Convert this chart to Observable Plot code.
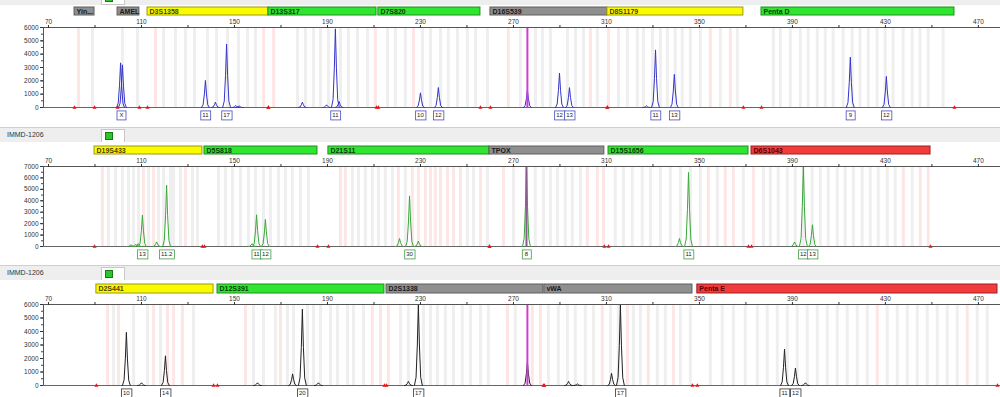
<!DOCTYPE html>
<html><head><meta charset="utf-8">
<script src="https://cdn.jsdelivr.net/npm/d3@7"></script>
<script src="https://cdn.jsdelivr.net/npm/@observablehq/plot@0.6"></script>
<style>
html,body{margin:0;padding:0;background:#fff}
body{width:1000px;height:397px;overflow:hidden;font-family:"Liberation Sans",Arial,sans-serif}
.band{position:relative;background:#eeeeee;border-top:1px solid #cfcfcf;box-sizing:border-box;overflow:hidden}
.band .name{position:absolute;left:7px;top:3px;font-size:7px;color:#333}
.band .sw{position:absolute;left:101px;top:1px;width:24px;height:14px;background:#fff;border:1px solid #c8c8c8;box-sizing:border-box}
.band .sw i{position:absolute;left:3px;top:2px;width:8px;height:8px;background:#2ec42e;border:1px solid #147a14;box-sizing:border-box}
svg{display:block}
</style></head><body><div id="root"></div><script>
// ---------- shared axis ----------
const xDomain = [67.85, 479.5];
const axisTicks = [70,90,110,130,150,170,190,210,230,250,270,290,310,330,350,370,390,410,430,450,470];
const axisLabels = [70,110,150,190,230,270,310,350,390,430,470];

// ---------- panel 1 (blue) ----------
const p1Markers = ["Yin...","AMEL","D3S1358","D13S317","D7S820","D16S539","D8S1179","Penta D"];
const p1Start   = [81.2, 99.7, 112.6, 164.6, 211.9, 260.1, 310.4, 376.7];
const p1End     = [89.8, 109.1, 164.6, 211.1, 255.8, 310.4, 368.9, 459.7];
const p1Dye     = ["grey","grey","yellow","green","green","grey","yellow","green"];
const p1PeakPos = [101.0, 101.8, 137.5, 141.8, 146.6, 150.5, 152.0, 179.2, 189.6, 193.4, 195.0, 230.0, 237.7, 276.0, 289.8, 294.1, 327.2, 331.1, 339.2, 414.9, 430.4];
const p1PeakH   = [3350, 3200, 2030, 400, 4760, 150, 120, 400, 200, 5900, 450, 1100, 1500, 1300, 2580, 1490, 120, 4320, 2480, 3770, 2330];
const p1AllelePos = [101.4, 137.5, 146.6, 193.4, 230.0, 237.7, 289.8, 294.1, 331.1, 339.2, 414.9, 430.4];
const p1Allele    = ["X","11","17","11","10","12","12","13","11","13","9","12"];
const p1YTicks = [0,1000,2000,3000,4000,5000,6000];
const p1BinGrey = [88.9,101.8,108.3,119.5,124.6,128.9,132.8,138.4,142.3,147.0,151.7,155.6,159.0,177.1,180.5,184.0,187.0,190.4,195.6,199.0,202.9,207.2,215.8,219.2,223.5,230.9,234.3,238.6,242.0,245.9,250.2,253.7,258.8,273.0,279.5,282.5,285.9,293.2,296.7,300.1,306.1,315.2,319.0,323.3,325.9,329.8,333.2,336.2,339.6,342.6,346.1,350.4,359.0,366.3,381.8,384.8,389.1,393.4,396.8,400.7,404.1,407.5,411.8,415.7,419.1,422.6,426.4,429.9,433.3,437.6,441.5,444.9,448.4,454.8];
const p1BinPink = [82.9,116.0,162.5,166.8,210.6,227.0,267.8,303.1,310.9,354.7,363.3];
const p1Magenta = [276.0];

// ---------- panel 2 (green) ----------
const p2Markers = ["D19S433","D5S818","D21S11","TPOX","D15S1656","D6S1043"];
const p2Start   = [89.8, 137.1, 190.4, 259.7, 310.9, 372.4];
const p2End     = [136.2, 185.7, 259.7, 309.1, 371.1, 449.4];
const p2Dye     = ["yellow","green","green","grey","green","red"];
const p2PeakPos = [105.5, 107.5, 108.6, 110.4, 116.5, 120.8, 157.6, 159.5, 163.3, 221.0, 225.3, 229.1, 275.6, 341.4, 345.3, 390.9, 394.7, 398.6];
const p2PeakH   = [150, 200, 250, 2750, 400, 5370, 250, 2770, 2370, 700, 4430, 470, 7000, 700, 6480, 400, 7000, 1900];
const p2AllelePos = [110.4, 120.8, 159.5, 163.3, 225.3, 275.6, 345.3, 394.7, 398.6];
const p2Allele    = ["13","11.2","11","12","30","8","11","12","13"];
const p2YTicks = [0,1000,2000,3000,4000,5000,6000,7000];
const p2BinGrey = [95.8,98.8,101.8,104.4,106.6,108.7,113.0,117.3,119.5,122.5,123.8,126.8,131.9,134.1,143.1,146.1,149.1,152.6,156.0,159.0,162.5,165.5,168.9,171.9,174.9,178.4,181.8,200.7,203.3,206.3,209.3,211.9,214.9,217.9,223.5,250.2,252.8,258.8,270.0,279.4,282.9,285.9,288.9,292.3,295.3,298.8,313.8,317.3,321.1,325.4,328.9,333.2,337.5,341.8,346.1,350.4,357.7,368.9,377.5,380.5,383.9,387.8,391.2,394.7,398.5,402.0,405.4,409.3,412.7,416.2,420.0,423.5,426.9,430.8,434.2,441.5];
const p2BinPink = [93.2,110.9,115.2,128.9,195.6,197.7,220.5,226.5,229.1,232.1,234.3,236.4,238.6,241.6,244.2,247.2,255.8,265.7,301.8,306.1,308.7,353.8,361.1,364.6,373.2,437.7,445.0,448.4];
const p2Magenta = [275.6];

// ---------- panel 3 (black) ----------
const p3Markers = ["D2S441","D12S391","D2S1338","vWA","Penta E"];
const p3Start   = [90.6, 142.7, 215.4, 283.3, 349.1];
const p3End     = [141.0, 214.5, 282.9, 347.0, 478.2];
const p3Dye     = ["yellow","green","grey","grey","red"];
const p3PeakPos = [103.5, 110.0, 120.3, 159.9, 175.0, 179.2, 186.1, 224.8, 229.1, 276.0, 293.7, 297.5, 312.2, 316.0, 386.6, 391.3, 395.6];
const p3PeakH   = [3940, 200, 2200, 200, 860, 5650, 200, 300, 6000, 1740, 300, 120, 900, 5960, 2700, 1290, 200];
const p3AllelePos = [103.5, 120.3, 179.2, 229.1, 316.0, 386.6, 391.3];
const p3Allele    = ["10","14","20","17","17","11","12"];
const p3YTicks = [0,1000,2000,3000,4000,5000,6000];
const p3BinGrey = [98.0,106.6,112.6,118.2,132.4,158.2,162.5,167.6,172.8,175.4,181.4,184.0,187.0,191.3,194.3,198.6,201.2,205.5,221.4,224.8,231.3,234.3,237.3,240.7,244.2,248.0,251.5,255.8,259.2,270.8,285.0,289.3,293.2,296.6,300.9,304.4,311.7,315.1,321.6,324.6,331.9,335.3,341.8,346.1,354.7,359.8,364.6,369.7,374.9,379.2,383.5,387.8,392.1,396.4,400.7,405.0,409.3,413.6,417.9,422.2,430.8,435.1,439.4,443.7,448.0,452.3,456.6,460.9,469.5,473.8];
const p3BinPink = [95.4,100.1,115.2,121.2,123.8,127.6,154.7,169.8,209.3,212.8,216.2,267.4,278.1,281.6,308.2,319.0,328.0,338.8,426.5,465.2];
const p3Magenta = [276.0];

// ---------- styles ----------
const dyeFill   = {yellow:"#fbfb00", green:"#30e530", grey:"#8f8f8f", red:"#f23c3c"};
const dyeStroke = {yellow:"#9a9a10", green:"#1f8f1f", grey:"#5e5e5e", red:"#a01c1c"};
const dyeText   = {yellow:"#4a4200", green:"#0c3a0c", grey:"#1a1a1a", red:"#5a0000"};
const baseStyle = {fontFamily:"Liberation Sans, Arial, sans-serif", fontSize:"6.5px", color:"#333", background:"transparent", overflow:"visible"};

const panels = [
  {markers:p1Markers,start:p1Start,end:p1End,dye:p1Dye,pos:p1PeakPos,h:p1PeakH,apos:p1AllelePos,alle:p1Allele,yTicks:p1YTicks,binG:p1BinGrey,binP:p1BinPink,mag:p1Magenta,
   color:"#3434c8", box:"#4a4ac0", magColor:"#d23cd2", bandH:5, bandTop:-10, stripH:12, stripMT:2, stripMB:2, mainH:110, mainMB:20, label:null},
  {markers:p2Markers,start:p2Start,end:p2End,dye:p2Dye,pos:p2PeakPos,h:p2PeakH,apos:p2AllelePos,alle:p2Allele,yTicks:p2YTicks,binG:p2BinGrey,binP:p2BinPink,mag:p2Magenta,
   color:"#3aa83a", box:"#4a9a4a", magColor:"#8a5a90", bandH:15, bandTop:0, stripH:14, stripMT:4, stripMB:2, mainH:109, mainMB:19, label:"IMMD-1206"},
  {markers:p3Markers,start:p3Start,end:p3End,dye:p3Dye,pos:p3PeakPos,h:p3PeakH,apos:p3AllelePos,alle:p3Allele,yTicks:p3YTicks,binG:p3BinGrey,binP:p3BinPink,mag:p3Magenta,
   color:"#222222", box:"#333333", magColor:"#d23cd2", bandH:15, bandTop:0, stripH:14, stripMT:4, stripMB:1, mainH:103, mainMB:12, label:"IMMD-1206"}
];

const shape = [[-1.7,0],[-1.0,0.1],[-0.45,0.5],[0,1],[0.45,0.5],[1.0,0.1],[1.7,0]];
const root = document.getElementById("root");

for (const P of panels) {
  // header band
  const band = document.createElement("div");
  band.className = "band";
  band.style.height = P.bandH + "px";
  if (!P.label) band.style.borderTop = "none";
  band.innerHTML = (P.label ? `<span class="name">${P.label}</span>` : "") +
    `<span class="sw" style="top:${P.bandTop + 1}px"><i></i></span>`;
  root.appendChild(band);

  // marker strip
  const mk = P.markers.map((name, i) => ({name, start:P.start[i], end:P.end[i], dye:P.dye[i]}));
  const strip = Plot.plot({
    width:1000, height:P.stripH, marginTop:P.stripMT, marginBottom:P.stripMB, marginLeft:43, marginRight:0,
    x:{domain:xDomain, axis:null}, style:baseStyle,
    marks:[
      Plot.barX(mk, {x1:"start", x2:"end", fill:d => dyeFill[d.dye], stroke:d => dyeStroke[d.dye], strokeWidth:1, inset:0}),
      Plot.text(mk, {x:"start", text:"name", textAnchor:"start", dx:2, fontSize:7, fontWeight:"bold", fill:d => dyeText[d.dye]})
    ]
  });
  root.appendChild(strip);

  // electropherogram
  const yMax = P.yTicks[P.yTicks.length - 1];
  const trace = P.pos.flatMap((p, i) => shape.map(([dx, f]) => ({x:p + dx, y:Math.min(P.h[i], yMax) * f, id:i})));
  const edges = mk.flatMap(d => [d.start, d.end]);
  const alleles = P.apos.map((x, i) => ({x, t:P.alle[i]}));
  const minor = d3.range(0, yMax + 1, 500);
  const main = Plot.plot({
    width:1000, height:P.mainH, marginTop:10, marginBottom:P.mainMB, marginLeft:43, marginRight:0,
    x:{domain:xDomain, label:null}, y:{domain:[0, yMax], label:null}, style:baseStyle,
    marks:[
      Plot.ruleX(P.binG, {stroke:"#efefef", strokeWidth:3}),
      Plot.ruleX(P.binP, {stroke:"#fde6e6", strokeWidth:3}),
      Plot.ruleY([0], {stroke:"#666", strokeWidth:1}),
      Plot.line(trace, {x:"x", y:"y", z:"id", stroke:P.color, strokeWidth:1}),
      Plot.ruleX(P.mag, {stroke:P.magColor, strokeWidth:2}),
      Plot.dot(edges, {x:d => d, y:() => 0, symbol:"triangle", r:1.5, fill:"#e01818", stroke:"none"}),
      Plot.ruleY([yMax], {stroke:"#555", strokeWidth:1}),
      Plot.ruleX([xDomain[0]], {stroke:"#555", strokeWidth:1}),
      Plot.axisX({anchor:"top", label:null, ticks:axisTicks, tickFormat:d => axisLabels.includes(d) ? String(d) : "", tickSize:3, tickPadding:1, fontSize:6.5, stroke:"#333"}),
      Plot.axisY({label:null, ticks:minor, tickSize:2, tickFormat:() => "", stroke:"#444"}),
      Plot.axisY({label:null, ticks:P.yTicks, tickSize:3, tickPadding:2, tickFormat:d3.format("d"), fontSize:6.5, stroke:"#333"}),
      Plot.text(alleles, {x:"x", y:() => 0, text:"t", dy:8, fontSize:6, fill:"#222", className:"allele"})
    ]
  });
  root.appendChild(main);
  // boxes around allele labels
  main.querySelectorAll("g.allele text").forEach(t => {
    const b = t.getBBox();
    const w = Math.max(b.width + 3, 9), h = 9;
    const r = document.createElementNS("http://www.w3.org/2000/svg", "rect");
    r.setAttribute("x", b.x + b.width / 2 - w / 2);
    r.setAttribute("y", b.y + b.height / 2 - h / 2);
    r.setAttribute("width", w);
    r.setAttribute("height", h);
    r.setAttribute("fill", "#fff");
    r.setAttribute("stroke", P.box);
    r.setAttribute("stroke-width", "0.8");
    if (t.getAttribute("transform")) r.setAttribute("transform", t.getAttribute("transform"));
    t.parentNode.insertBefore(r, t);
  });
}
</script></body></html>
